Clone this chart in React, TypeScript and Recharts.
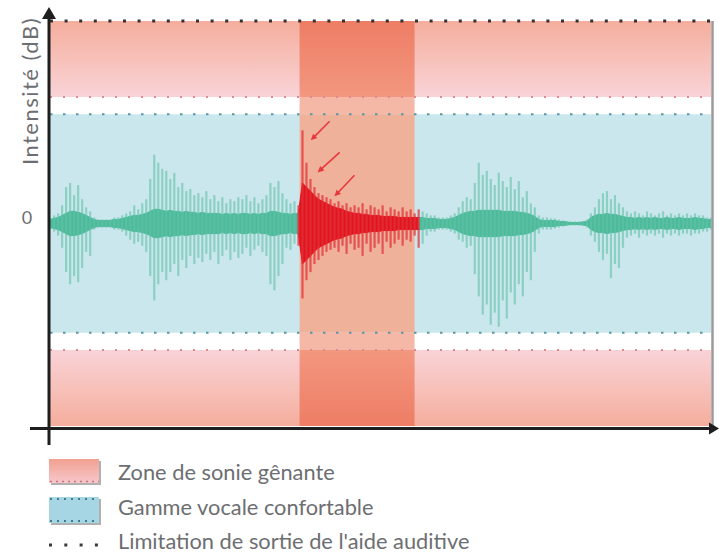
import React from "react";
import {
  Area,
  Bar,
  Cell,
  ComposedChart,
  Legend,
  ReferenceArea,
  ReferenceLine,
  XAxis,
  YAxis,
} from "recharts";

// waveform envelope, one sample every time step (0..165)
const coreAmp = [
  2, 2.5, 3, 4, 5, 6, 6, 5.5, 5, 4,
  3, 2, 1.5, 1.5, 1.5, 1.5, 2, 2, 2.5, 3,
  3.5, 4, 4, 4.5, 5,
  6, 7, 7, 6.5,
  6, 6.5, 6, 6, 5.5, 6, 5.5, 5.5, 5, 5.5, 5, 5, 5, 5, 4.5, 5, 4.5, 5, 4.5,
  5, 5, 4.5, 5, 4.5, 5, 5,
  6, 6, 5.5, 5, 5, 4.5, 5, 5,
  20, 18, 16, 14, 12, 11, 10, 9, 8, 7.5, 7, 6, 5.5, 5, 5, 4.5, 4.5, 4, 4, 4, 3.5, 3.5, 3.5, 3.5, 3, 3, 3, 3, 3,
  3, 3, 2.5, 2.5, 2.5, 2, 2, 2, 2.5, 3,
  4, 5, 5.5, 6, 6, 6.5, 6.5, 6.5, 6.5, 6.5, 6.5, 6, 6, 6, 6, 5.5, 5.5, 5, 4.5, 3.5,
  2, 1.5, 1.5, 1.5, 1.5, 1, 1, 0.8, 0.5, 0.5, 0.5, 0.8,
  1, 3, 4, 4.5, 4.5, 5, 4.5, 4.5, 4, 3.5, 3,
  3, 2.5, 3, 2.5, 3, 2.5, 3, 2.5, 2.5, 3, 2.5, 2.5, 3, 2.5, 2.5, 2.5, 3, 2.5, 2.5, 2, 2,
];

const peakHigh = [
  3, 4, 5, 9, 18, 20, 14, 19, 12, 8,
  6, 3, 2, 2, 2, 2, 3, 3, 4, 5,
  6, 9, 7, 10, 12,
  22, 34, 30, 27,
  26, 22, 25, 18, 20, 16, 17, 14, 15, 13, 16, 12, 14, 11, 13, 10, 12, 11, 13,
  12, 14, 11, 13, 10, 12, 14,
  20, 18, 21, 15, 12, 10, 11, 9,
  46, 30, 22, 18, 15, 14, 13, 12, 10, 11, 9, 10, 8, 9, 8, 10, 7, 9, 8, 7, 9, 6, 8, 7, 6, 8, 6, 7, 5,
  7, 6, 5, 4, 4, 3, 3, 3, 4, 5,
  8, 11, 13, 12, 20, 30, 24, 26, 22, 19, 25, 21, 18, 23, 17, 21, 13, 16, 10, 8,
  4, 3, 3, 2.5, 2.5, 2, 1.5, 1, 1, 1, 1, 1,
  2, 5, 8, 12, 15, 16, 12, 14, 10, 8, 6,
  5, 6, 5, 4, 6, 5, 4, 5, 6, 4, 5, 4, 5, 4, 5, 4, 5, 4, 4, 3, 3,
];

const peakLow = [
  -3, -4, -6, -12, -24, -30, -26, -29, -22, -14,
  -16, -3, -2, -2, -2, -2, -3, -3, -4, -6,
  -8, -10, -9, -11, -14,
  -26, -38, -30, -24,
  -28, -24, -20, -26, -18, -22, -16, -20, -17, -19, -15, -18, -14, -20, -16, -13, -18, -14, -17,
  -15, -12, -16, -13, -11, -14, -16,
  -30, -33, -26, -20, -12, -13, -10, -11,
  -37, -28, -24, -20, -18, -16, -14, -13, -12, -14, -11, -15, -10, -13, -12, -16, -10, -14, -12, -10, -15, -9, -12, -10, -8, -11, -8, -9, -6,
  -12, -10, -6, -4, -4, -3, -3, -3, -4, -5,
  -8, -9, -12, -11, -25, -36, -45, -40, -50, -44, -51, -38, -47, -34, -40, -30, -36, -24, -28, -14,
  -5, -3, -3, -3, -2.5, -2, -1.5, -1, -1, -1, -1, -1,
  -2, -6, -9, -14, -18, -15, -27, -20, -22, -12, -7,
  -6, -5, -7, -5, -6, -5, -6, -5, -7, -5, -6, -5, -6, -5, -5, -6, -5, -5, -4, -4, -3,
];

// samples of the loud (red) burst and the highlighted time window
const loudFrom = 62;
const loudTo = 92;
const windowFrom = 62.3;
const windowTo = 91;

// levels (dB, relative)
const outputLimit = 100;
const discomfortLevel = 62.5;
const comfortLevel = 54;
const yTicks = [0];

// arrows pointing at the burst onset: [t1, v1, t2, v2]
const arrows = [
  [69.8, 50.5, 65.1, 41.1],
  [72.3, 35.1, 66.8, 25.2],
  [76.0, 23.8, 71.0, 13.4],
];

const legendLabels = [
  "Zone de sonie gênante",
  "Gamme vocale confortable",
  "Limitation de sortie de l'aide auditive",
];
const xLabel = "Temps (ms)";
const yLabel = "Intensité (dB)";

const TEXT = "#6d6e71";
const FONT = "Lato, 'Open Sans', sans-serif";
const TEAL = "#4dbb9b";
const RED = "#e3141e";

const data = coreAmp.map((c, i) => ({ t: i, core: c, hi: peakHigh[i], lo: peakLow[i] }));
const isLoud = (t: number) => t >= loudFrom && t <= loudTo;

function ArrowShape(props: any) {
  const { x1, y1, x2, y2 } = props;
  const a = Math.atan2(y2 - y1, x2 - x1);
  const s = 7;
  const p1 = [x2 - s * Math.cos(a - 0.45), y2 - s * Math.sin(a - 0.45)];
  const p2 = [x2 - s * Math.cos(a + 0.45), y2 - s * Math.sin(a + 0.45)];
  return (
    <g>
      <line x1={x1} y1={y1} x2={x2 - 3 * Math.cos(a)} y2={y2 - 3 * Math.sin(a)} stroke="#e8383d" strokeWidth={1.6} />
      <polygon points={`${x2},${y2} ${p1[0]},${p1[1]} ${p2[0]},${p2[1]}`} fill="#e8383d" />
    </g>
  );
}

function VerticalAxisShape(props: any) {
  const x = props.x1 - 1;
  const top = Math.min(props.y1, props.y2);
  const bottom = Math.max(props.y1, props.y2);
  return (
    <g>
      <line x1={x} x2={x} y1={top - 6} y2={bottom + 19} stroke="#1e1e1e" strokeWidth={3} />
      <polygon points={`${x},${top - 14} ${x - 7},${top - 2} ${x + 7},${top - 2}`} fill="#1e1e1e" />
    </g>
  );
}

function HorizontalAxisShape(props: any) {
  const y = props.y1 + 2.5;
  const left = Math.min(props.x1, props.x2);
  const right = Math.max(props.x1, props.x2);
  return (
    <g>
      <line x1={left - 20} x2={right + 2} y1={y} y2={y} stroke="#1e1e1e" strokeWidth={3} />
      <polygon points={`${right + 8},${y} ${right - 2},${y - 6} ${right - 2},${y + 6}`} fill="#1e1e1e" />
    </g>
  );
}

function RightEdgeShape(props: any) {
  const x = props.x1 + 1.5;
  return <line x1={x} x2={x} y1={Math.min(props.y1, props.y2)} y2={Math.max(props.y1, props.y2) + 1} stroke="#9a9a9a" strokeWidth={2.5} />;
}

function LegendBox() {
  return (
    <svg width={719} height={116} style={{ display: "block" }}>
      <defs>
        <linearGradient id="swatchPink" x1="0" y1="0" x2="0" y2="1">
          <stop offset="0" stopColor="#f1a08f" />
          <stop offset="1" stopColor="#f7c7cc" />
        </linearGradient>
      </defs>
      <rect x={51} y={21} width={50} height={24} fill="#b0b0b0" />
      <rect x={49} y={19} width={50} height={24} fill="url(#swatchPink)" />
      <line x1={50} x2={99} y1={41.5} y2={41.5} stroke="#c9707a" strokeWidth={1.5} strokeDasharray="2 4" />
      <rect x={51} y={59} width={50} height={26} fill="#b0b0b0" />
      <rect x={49} y={57} width={50} height={26} fill="#a6d6e4" />
      <line x1={50} x2={99} y1={59} y2={59} stroke="#3d7e8a" strokeWidth={1.8} strokeDasharray="2 5" />
      <line x1={50} x2={99} y1={81} y2={81} stroke="#3d7e8a" strokeWidth={1.8} strokeDasharray="2 5" />
      <line x1={49} x2={101} y1={105} y2={105} stroke="#3a3a3a" strokeWidth={3} strokeDasharray="3 12.3" />
      {legendLabels.map((label, i) => (
        <text key={label} x={118} y={[40, 75, 109][i]} fill={TEXT} fontFamily={FONT} fontSize={21.8}>
          {label}
        </text>
      ))}
    </svg>
  );
}

export default function App() {
  return (
    <div style={{ position: "absolute", left: 0, top: 0, width: 719, height: 556, background: "#fff", fontFamily: FONT }}>
      <ComposedChart width={719} height={556} data={data} margin={{ top: 21, right: 8, bottom: 130, left: 0 }}>
        <defs>
          <linearGradient id="pinkTop" x1="0" y1="0" x2="0" y2="1">
            <stop offset="0" stopColor="#f5ae9d" />
            <stop offset="1" stopColor="#f9d3d7" />
          </linearGradient>
          <linearGradient id="pinkBottom" x1="0" y1="0" x2="0" y2="1">
            <stop offset="0" stopColor="#f9d3d7" />
            <stop offset="1" stopColor="#f5ae9d" />
          </linearGradient>
          <linearGradient id="colTop" x1="0" y1="0" x2="0" y2="1">
            <stop offset="0" stopColor="#ee7d65" />
            <stop offset="1" stopColor="#f3977f" />
          </linearGradient>
          <linearGradient id="colBottom" x1="0" y1="0" x2="0" y2="1">
            <stop offset="0" stopColor="#f3977f" />
            <stop offset="1" stopColor="#ee7d65" />
          </linearGradient>
        </defs>
        <XAxis
          type="number"
          dataKey="t"
          domain={[0, 165]}
          axisLine={false}
          tick={false}
          tickLine={false}
          height={0}
          label={{
            value: xLabel,
            content: (p: any) => (
              <text x={p.viewBox.x + p.viewBox.width + 2} y={p.viewBox.y + 44} textAnchor="end" fill={TEXT} fontFamily={FONT} fontSize={20.3}>
                {xLabel}
              </text>
            ),
          }}
        />
        <YAxis
          type="number"
          domain={[-outputLimit, outputLimit]}
          ticks={yTicks}
          width={50}
          axisLine={false}
          tickLine={false}
          tickSize={0}
          tickMargin={0}
          tick={(p: any) => (
            <text x={p.x - 23} y={p.y + 0.5} textAnchor="middle" fill={TEXT} fontFamily={FONT} fontSize={18}>
              {p.payload.value}
            </text>
          )}
          label={{
            value: yLabel,
            content: (p: any) => {
              const x = p.viewBox.x + 38;
              const y = p.viewBox.y + 70;
              return (
                <text x={x} y={y} transform={`rotate(-90 ${x} ${y})`} textAnchor="middle" fill={TEXT} fontFamily={FONT} fontSize={22} letterSpacing={1.5}>
                  {yLabel}
                </text>
              );
            },
          }}
        />

        <ReferenceArea y1={discomfortLevel} y2={outputLimit} fill="url(#pinkTop)" fillOpacity={1} stroke="none" />
        <ReferenceArea y1={-comfortLevel} y2={comfortLevel} fill="#cbe7ee" fillOpacity={1} stroke="none" />
        <ReferenceArea y1={-outputLimit} y2={-discomfortLevel} fill="url(#pinkBottom)" fillOpacity={1} stroke="none" />

        <ReferenceArea x1={windowFrom} x2={windowTo} y1={discomfortLevel} y2={outputLimit} fill="url(#colTop)" fillOpacity={1} stroke="none" />
        <ReferenceArea x1={windowFrom} x2={windowTo} y1={comfortLevel} y2={discomfortLevel} fill="#f6b8a6" fillOpacity={1} stroke="none" />
        <ReferenceArea x1={windowFrom} x2={windowTo} y1={-comfortLevel} y2={comfortLevel} fill="#f0b19a" fillOpacity={1} stroke="none" />
        <ReferenceArea x1={windowFrom} x2={windowTo} y1={-discomfortLevel} y2={-comfortLevel} fill="#f6b8a6" fillOpacity={1} stroke="none" />
        <ReferenceArea x1={windowFrom} x2={windowTo} y1={-outputLimit} y2={-discomfortLevel} fill="url(#colBottom)" fillOpacity={1} stroke="none" />

        <ReferenceLine y={outputLimit} stroke="#333" strokeWidth={3} strokeDasharray="3 11.6" />
        <ReferenceLine y={discomfortLevel} stroke="#de8a90" strokeWidth={2} strokeDasharray="2 11" />
        <ReferenceLine y={-discomfortLevel} stroke="#de8a90" strokeWidth={2} strokeDasharray="2 11" />
        <ReferenceLine y={comfortLevel} stroke="#5a96a2" strokeWidth={2} strokeDasharray="2.5 10.5" />
        <ReferenceLine y={-comfortLevel} stroke="#5a96a2" strokeWidth={2} strokeDasharray="2.5 10.5" />

        <Bar dataKey={(d: any) => [d.lo, d.hi]} barSize={2.2} isAnimationActive={false}>
          {data.map((d) => (
            <Cell key={d.t} fill={isLoud(d.t) ? "#e0333a" : "#62c2a6"} fillOpacity={isLoud(d.t) ? 0.75 : 0.6} />
          ))}
        </Bar>
        <Area
          type="linear"
          dataKey={(d: any) => (d.t <= loudFrom || d.t >= loudTo ? [-d.core, d.core] : null)}
          fill={TEAL}
          fillOpacity={1}
          stroke={TEAL}
          strokeWidth={1}
          dot={false}
          activeDot={false}
          isAnimationActive={false}
        />
        <Area
          type="linear"
          dataKey={(d: any) => (isLoud(d.t) ? [-d.core, d.core] : null)}
          fill={RED}
          fillOpacity={1}
          stroke={RED}
          strokeWidth={1}
          dot={false}
          activeDot={false}
          isAnimationActive={false}
        />

        {arrows.map(([ta, va, tb, vb], i) => (
          <ReferenceLine key={i} segment={[{ x: ta, y: va }, { x: tb, y: vb }]} shape={ArrowShape} />
        ))}
        <ReferenceLine x={165} shape={RightEdgeShape} />
        <ReferenceLine x={0} shape={VerticalAxisShape} />
        <ReferenceLine y={-outputLimit} shape={HorizontalAxisShape} />

        <Legend
          layout="horizontal"
          verticalAlign="middle"
          align="center"
          wrapperStyle={{ left: 0, top: 440, width: 719, height: 116, margin: 0, padding: 0 }}
          content={() => <LegendBox />}
        />
      </ComposedChart>
    </div>
  );
}
